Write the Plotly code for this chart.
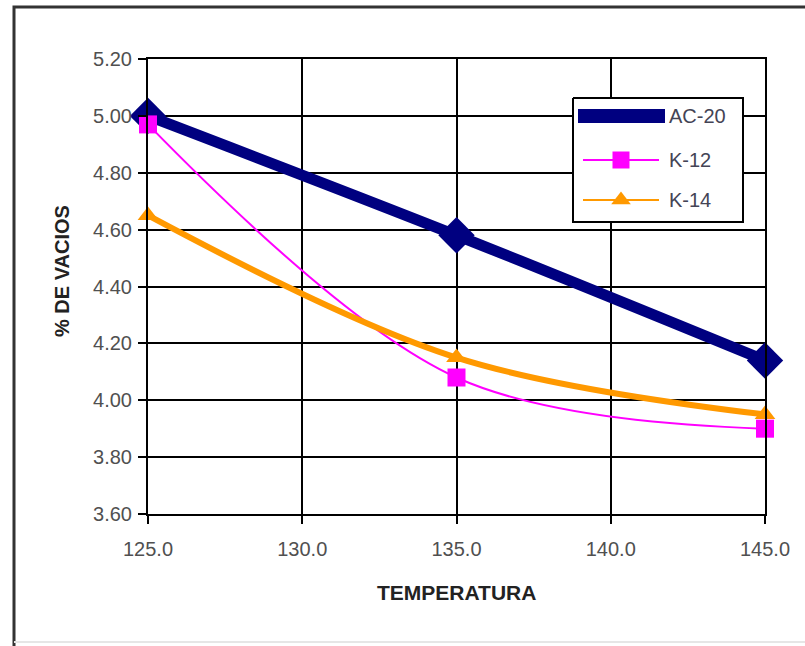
import plotly.graph_objects as go

# Temperatura de compactación vs. % de vacíos
temperatura = [125, 135, 145]
ac20 = [5.00, 4.58, 4.14]
k12 = [4.97, 4.08, 3.90]
k14 = [4.65, 4.15, 3.95]

series_names = ["AC-20", "K-12", "K-14"]
x_ticks = [125, 130, 135, 140, 145]
y_ticks = [3.60, 3.80, 4.00, 4.20, 4.40, 4.60, 4.80, 5.00, 5.20]

NAVY = "#000080"
MAGENTA = "#FF00FF"
ORANGE = "#FF9900"
FONT = "Liberation Sans, Arial, sans-serif"
TICK_GRAY = "#505050"

W, H = 805, 646
L, R, T, B = 148, 40, 59, 132
plot_w = W - L - R
plot_h = H - T - B


def px_x(p):
    return (p - L) / plot_w


def px_y(p):
    return (H - B - p) / plot_h


fig = go.Figure()

fig.add_trace(go.Scatter(
    x=temperatura, y=ac20, name=series_names[0], mode="lines+markers",
    line=dict(color=NAVY, width=11, shape="spline", smoothing=1),
    marker=dict(symbol="diamond", size=28, color=NAVY),
    cliponaxis=False, showlegend=False))
fig.add_trace(go.Scatter(
    x=temperatura, y=k12, name=series_names[1], mode="lines+markers",
    line=dict(color=MAGENTA, width=2, shape="spline", smoothing=1),
    marker=dict(symbol="square", size=18, color=MAGENTA),
    cliponaxis=False, showlegend=False))
fig.add_trace(go.Scatter(
    x=temperatura, y=k14, name=series_names[2], mode="lines+markers",
    line=dict(color=ORANGE, width=6, shape="spline", smoothing=1),
    marker=dict(symbol="triangle-up", size=18, color=ORANGE),
    cliponaxis=False, showlegend=False))

# Legend panel drawn on a pixel-scaled overlay axis pair
box_x = [573, 743, 743, 573, 573]
box_y = [98, 98, 222, 222, 98]
fig.add_trace(go.Scatter(
    x=box_x, y=box_y, xaxis="x2", yaxis="y2", mode="lines", fill="toself",
    fillcolor="white", line=dict(color="black", width=2),
    hoverinfo="skip", showlegend=False))

legend_rows = [116, 160, 200]
legend_styles = [
    (NAVY, 14, [578, 665], None, 0),
    (MAGENTA, 2, [583, 659], "square", 17),
    (ORANGE, 2, [583, 659], "triangle-up", 17),
]
for row_y, (color, lw, xs, sym, msize), label in zip(legend_rows, legend_styles, series_names):
    fig.add_trace(go.Scatter(
        x=xs, y=[row_y, row_y], xaxis="x2", yaxis="y2", mode="lines",
        line=dict(color=color, width=lw), hoverinfo="skip", showlegend=False))
    if sym:
        fig.add_trace(go.Scatter(
            x=[621], y=[row_y], xaxis="x2", yaxis="y2", mode="markers",
            marker=dict(symbol=sym, size=msize, color=color),
            hoverinfo="skip", showlegend=False))
    fig.add_annotation(
        x=667, y=row_y, xref="x2", yref="y2", text=label, showarrow=False,
        xanchor="left", yanchor="middle",
        font=dict(family=FONT, size=20, color="#444455"))

axis_common = dict(
    showline=True, mirror=True, linecolor="black", linewidth=2,
    showgrid=True, gridcolor="black", gridwidth=2, zeroline=False,
    ticks="outside", ticklen=8, tickwidth=2, tickcolor="black",
    tickfont=dict(family=FONT, size=20, color=TICK_GRAY),
)

fig.update_layout(
    width=W, height=H,
    margin=dict(l=L, r=R, t=T, b=B, pad=0),
    paper_bgcolor="white", plot_bgcolor="white",
    showlegend=False,
    xaxis=dict(range=[125, 145], tickvals=x_ticks, tickformat=".1f",
               ticklabelstandoff=8, **axis_common),
    yaxis=dict(range=[3.60, 5.20], tickvals=y_ticks, tickformat=".2f",
               ticklabelstandoff=2, **axis_common),
    xaxis2=dict(overlaying="x", range=[L, W - R], visible=False, fixedrange=True),
    yaxis2=dict(overlaying="y", range=[H - B, T], visible=False, fixedrange=True),
)

# Axis titles
fig.add_annotation(
    x=0.5, y=px_y(592), xref="paper", yref="paper", text="<b>TEMPERATURA</b>",
    showarrow=False, xanchor="center", yanchor="middle",
    font=dict(family=FONT, size=21, color="#222222"))
fig.add_annotation(
    x=px_x(62), y=px_y(271), xref="paper", yref="paper", text="<b>% DE VACIOS</b>",
    showarrow=False, textangle=-90, xanchor="center", yanchor="middle",
    font=dict(family=FONT, size=20, color="#222222"))

# Outer chart frame
fig.add_shape(type="rect", xref="paper", yref="paper",
              x0=px_x(14), x1=px_x(W + 10), y0=px_y(H + 10), y1=px_y(7),
              line=dict(color="#333333", width=3), layer="below")
fig.add_shape(type="line", xref="paper", yref="paper",
              x0=px_x(14), x1=px_x(W), y0=px_y(642), y1=px_y(642),
              line=dict(color="#E6E6E6", width=2), layer="below")

fig.write_html("out.html")
